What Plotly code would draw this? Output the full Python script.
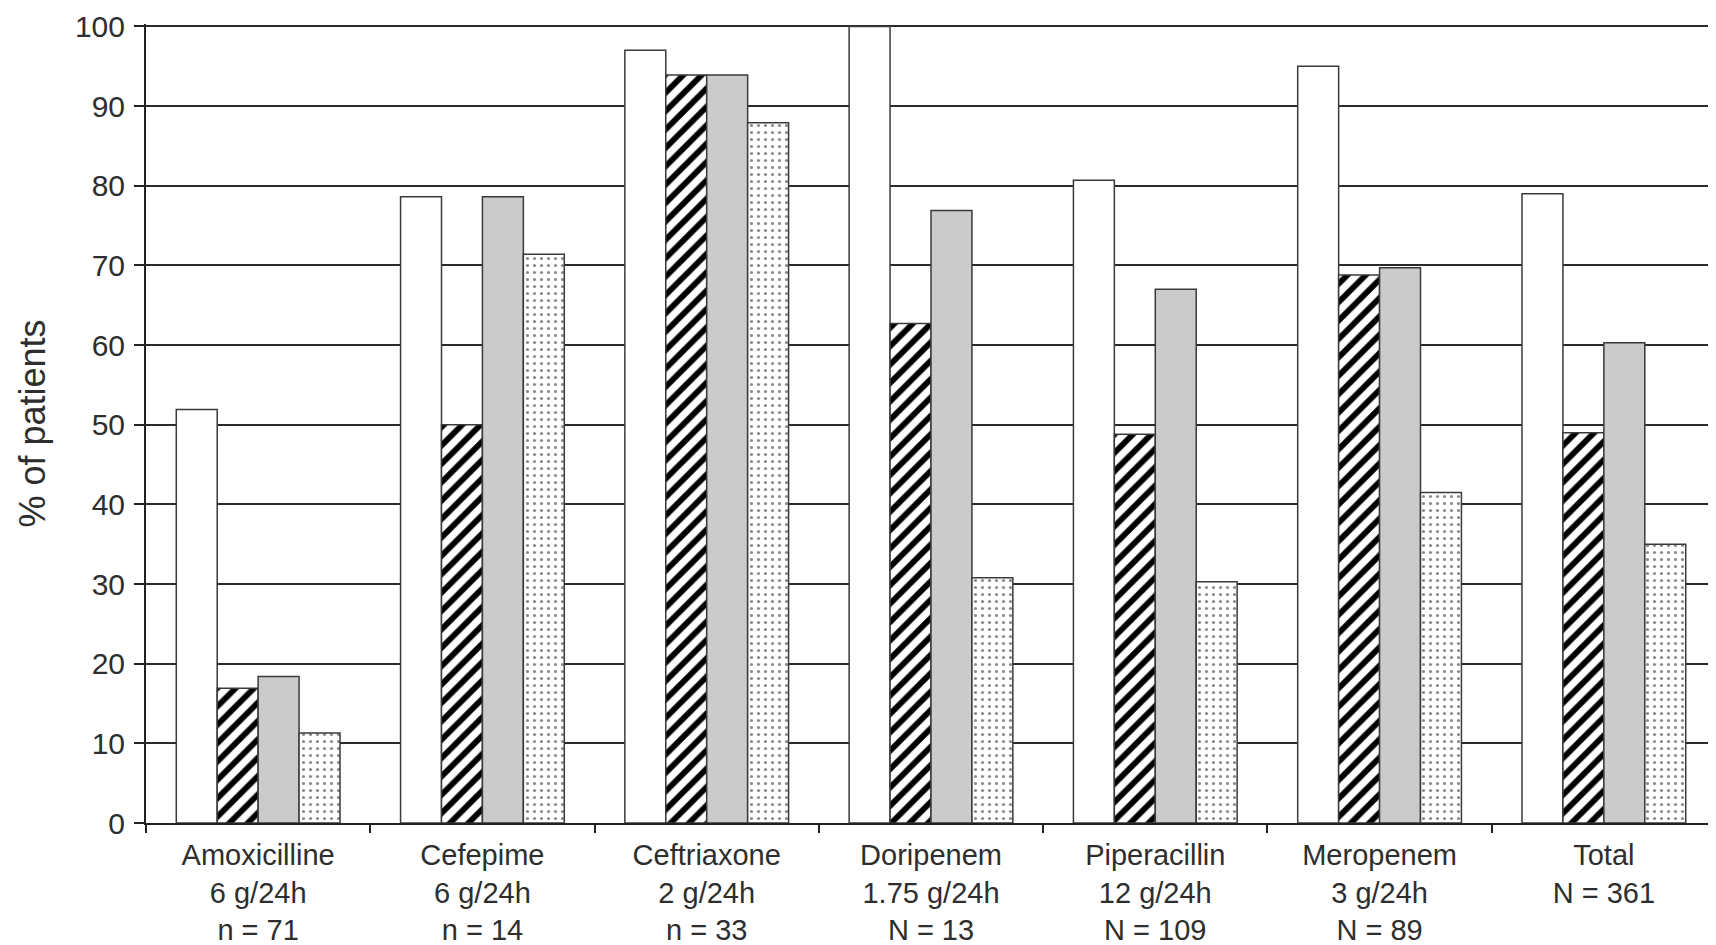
import plotly.graph_objects as go

categories = [
    "Amoxicilline<br>6 g/24h<br>n = 71",
    "Cefepime<br>6 g/24h<br>n = 14",
    "Ceftriaxone<br>2 g/24h<br>n = 33",
    "Doripenem<br>1.75 g/24h<br>N = 13",
    "Piperacillin<br>12 g/24h<br>N = 109",
    "Meropenem<br>3 g/24h<br>N = 89",
    "Total<br>N = 361",
]
white_vals = [51.9, 78.6, 97.0, 100.0, 80.7, 95.0, 79.0]
hatched_vals = [16.9, 50.0, 93.9, 62.7, 48.8, 68.8, 49.0]
gray_vals = [18.4, 78.6, 93.9, 76.9, 67.0, 69.7, 60.3]
dotted_vals = [11.3, 71.4, 87.9, 30.8, 30.3, 41.5, 35.0]
y_ticks = [0, 10, 20, 30, 40, 50, 60, 70, 80, 90, 100]

FONT = "Liberation Sans, Arial, sans-serif"
TXT = "#2e2e2e"
EDGE = "#3a3a3a"

fig = go.Figure()
fig.add_trace(go.Bar(x=categories, y=white_vals, name="white",
                     marker=dict(color="white", line=dict(color=EDGE, width=1.5))))
fig.add_trace(go.Bar(x=categories, y=hatched_vals, name="hatched",
                     marker=dict(color="white", line=dict(color=EDGE, width=1.5),
                                 pattern=dict(shape="/", fgcolor="#000000", bgcolor="white",
                                              size=13, solidity=0.45, fillmode="replace",
                                              fgopacity=1))))
fig.add_trace(go.Bar(x=categories, y=gray_vals, name="gray",
                     marker=dict(color="#cbcbcb", line=dict(color=EDGE, width=1.5))))
fig.add_trace(go.Bar(x=categories, y=dotted_vals, name="dotted",
                     marker=dict(color="white", line=dict(color=EDGE, width=1.5),
                                 pattern=dict(shape=".", fgcolor="#8a8a8a", bgcolor="white",
                                              size=7, solidity=0.16, fillmode="replace",
                                              fgopacity=1))))

fig.update_layout(
    width=1716, height=937,
    margin=dict(l=138, r=8, t=16, b=122),
    paper_bgcolor="white", plot_bgcolor="white",
    barmode="group", bargap=0.27, bargroupgap=0,
    showlegend=False,
    font=dict(family=FONT, color=TXT, size=29),
)
fig.update_xaxes(
    automargin=False,
    showgrid=False, showline=True, linecolor="#222222", linewidth=2,
    ticks="outside", tickson="boundaries", ticklen=8, tickwidth=2, tickcolor="#222222",
    tickfont=dict(size=29, family=FONT, color=TXT),
    ticklabelstandoff=5,
)
fig.update_yaxes(
    automargin=False,
    range=[0, 100.3], tickvals=y_ticks,
    showgrid=True, gridcolor="#2a2a2a", gridwidth=2,
    showline=True, linecolor="#222222", linewidth=2,
    ticks="outside", ticklen=10, tickwidth=2, tickcolor="#222222",
    tickfont=dict(size=30, family=FONT, color=TXT),
    ticklabelstandoff=3,
    ticklabeloverflow="allow",
    zeroline=False,
    title=dict(text="% of patients", font=dict(size=36, family=FONT, color=TXT), standoff=18),
)

fig.write_html("out.html")
